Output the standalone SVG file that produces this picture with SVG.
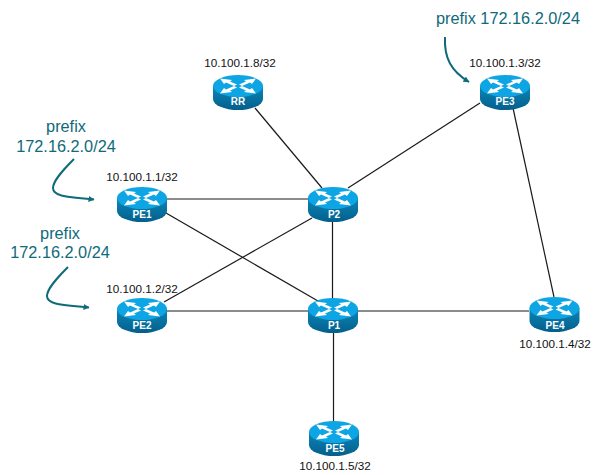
<svg xmlns="http://www.w3.org/2000/svg" xmlns:xlink="http://www.w3.org/1999/xlink" width="597" height="475" viewBox="0 0 597 475">
<style>
.ip{font:11.7px "Liberation Sans",Arial,sans-serif;fill:#111;text-anchor:middle}
.nm{font:bold 10px "Liberation Sans",Arial,sans-serif;fill:#fff;text-anchor:middle}
.pf{font:16.3px "Liberation Sans",Arial,sans-serif;fill:#0f6a7a;text-anchor:middle}
.ln{stroke:#1a1a1a;stroke-width:1.2;fill:none}
.cv{stroke:#0f6a7a;stroke-width:2;fill:none}
</style>
<defs>
<linearGradient id="body" x1="0" x2="0" y1="0" y2="1"><stop offset="0" stop-color="#0a86b8"/><stop offset="1" stop-color="#045f8c"/></linearGradient>
<marker id="ah" markerWidth="7" markerHeight="7" refX="5.5" refY="3" orient="auto" markerUnits="userSpaceOnUse"><path d="M0,0L6,3L0,6Z" fill="#0f6a7a"/></marker>
<g id="router">
<path d="M-25,11V24A25,11 0 0 0 25,24V11Z" fill="url(#body)"/>
<ellipse cx="0" cy="11" rx="25" ry="11" fill="#0ea5e4"/>
<g fill="#fff">
<path d="M-18,3.5L-6,5L-8,6.5L-1,9.5L-4,11L-12,7.5L-14,9Z"/>
<path d="M18,3.5L6,5L8,6.5L1,9.5L4,11L12,7.5L14,9Z"/>
<path d="M-18,18.5L-6,17L-8,15.5L-1,12.5L-4,11L-12,14.5L-14,13Z"/>
<path d="M18,18.5L6,17L8,15.5L1,12.5L4,11L12,14.5L14,13Z"/>
</g>
</g>
</defs>
<g id="connectors">
<path class="ln" d="M255,108L322,188"/>
<path class="ln" d="M348,188L480,103"/>
<path class="ln" d="M513,108L554,297"/>
<path class="ln" d="M167,199H308"/>
<path class="ln" d="M166,213L318,301"/>
<path class="ln" d="M164,302L312,218"/>
<path class="ln" d="M167,311H308"/>
<path class="ln" d="M332.5,222V298"/>
<path class="ln" d="M358,311H529"/>
<path class="ln" d="M333.5,333V421"/>
</g>
<g id="annotations">
<text class="pf" x="66" y="132">prefix</text>
<text class="pf" x="66" y="152">172.16.2.0/24</text>
<path class="cv" marker-end="url(#ah)" d="M74,159C62,171 53,181 53,188C53,197 70,197 94,199.500"/>
<text class="pf" x="60" y="239">prefix</text>
<text class="pf" x="60" y="258">172.16.2.0/24</text>
<path class="cv" marker-end="url(#ah)" d="M68,267C56,279 47,289 47,296C47,305 64,305 89,307.500"/>
<text class="pf" x="508" y="24">prefix 172.16.2.0/24</text>
<path class="cv" marker-end="url(#ah)" d="M445,37C444,58 451,71 469,82"/>
</g>
<g id="RR"><text class="ip" x="240" y="67">10.100.1.8/32</text><use href="#router" xlink:href="#router" x="238" y="75"/><text class="nm" x="238" y="105">RR</text></g>
<g id="PE3"><text class="ip" x="505" y="67">10.100.1.3/32</text><use href="#router" xlink:href="#router" x="505" y="75"/><text class="nm" x="505" y="105">PE3</text></g>
<g id="PE1"><text class="ip" x="142" y="181">10.100.1.1/32</text><use href="#router" xlink:href="#router" x="142" y="187"/><text class="nm" x="142" y="218">PE1</text></g>
<g id="P2"><use href="#router" xlink:href="#router" x="333" y="187"/><text class="nm" x="334" y="218">P2</text></g>
<g id="PE2"><text class="ip" x="142" y="293">10.100.1.2/32</text><use href="#router" xlink:href="#router" x="142" y="298"/><text class="nm" x="142" y="329">PE2</text></g>
<g id="P1"><use href="#router" xlink:href="#router" x="333" y="298"/><text class="nm" x="334" y="329">P1</text></g>
<g id="PE4"><use href="#router" xlink:href="#router" x="554.500" y="297"/><text class="nm" x="555" y="329">PE4</text><text class="ip" x="555" y="348">10.100.1.4/32</text></g>
<g id="PE5"><use href="#router" xlink:href="#router" x="334" y="421"/><text class="nm" x="335" y="452">PE5</text><text class="ip" x="335" y="470">10.100.1.5/32</text></g>
</svg>
